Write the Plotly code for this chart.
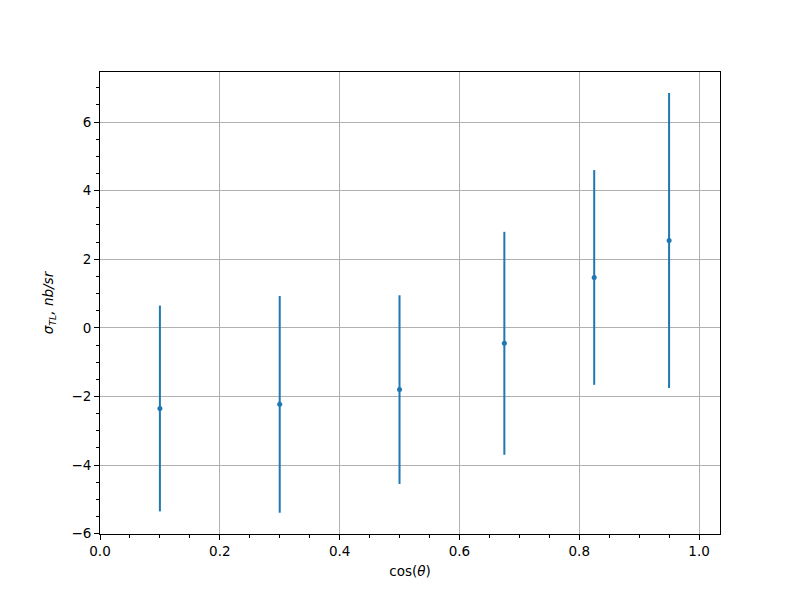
import plotly.graph_objects as go

cos_theta = [0.1, 0.3, 0.5, 0.675, 0.825, 0.95]
sigma_tl = [-2.35, -2.23, -1.80, -0.45, 1.47, 2.55]
sigma_err = [3.00, 3.16, 2.75, 3.25, 3.13, 4.30]

x_ticks = [0.0, 0.2, 0.4, 0.6, 0.8, 1.0]
y_ticks = [-6, -4, -2, 0, 2, 4, 6]

blue = "#1f77b4"

fig = go.Figure()
fig.add_trace(go.Scatter(
    x=cos_theta, y=sigma_tl, mode="markers",
    marker=dict(color=blue, size=5),
    error_y=dict(type="data", array=sigma_err, visible=True,
                 color=blue, thickness=2, width=0),
    showlegend=False,
))

axis_common = dict(
    showline=True, linecolor="black", linewidth=1, mirror=True,
    ticks="outside", ticklen=5, tickwidth=1, tickcolor="black",
    showgrid=True, gridcolor="#b0b0b0", gridwidth=1,
    zeroline=False,
    tickfont=dict(family="DejaVu Sans", size=13.5, color="black"),
)

fig.update_xaxes(
    range=[0, 1.035], tickvals=x_ticks,
    ticktext=[f"{v:.1f}" for v in x_ticks],
    minor=dict(dtick=0.05, tick0=0, ticks="outside", ticklen=3,
               tickcolor="black", tickwidth=1, showgrid=False),
    title=dict(text="cos(<i>θ</i>)", font=dict(family="DejaVu Sans", size=13.5, color="black"), standoff=8),
    **axis_common,
)
fig.update_yaxes(
    range=[-6.01, 7.46], tickvals=y_ticks,
    ticktext=[str(v).replace("-", "−") for v in y_ticks],
    minor=dict(dtick=0.5, tick0=0, ticks="outside", ticklen=3,
               tickcolor="black", tickwidth=1, showgrid=False),
    title=dict(text="<i>σ<sub>TL</sub>, nb/sr</i>", font=dict(family="DejaVu Sans", size=13.5, color="black"), standoff=14),
    **axis_common,
)

fig.update_layout(
    width=800, height=600,
    margin=dict(l=92, r=88, t=64, b=74),
    paper_bgcolor="white", plot_bgcolor="white",
    font=dict(family="DejaVu Sans", size=13.5, color="black"),
)

fig.write_html("out.html")
